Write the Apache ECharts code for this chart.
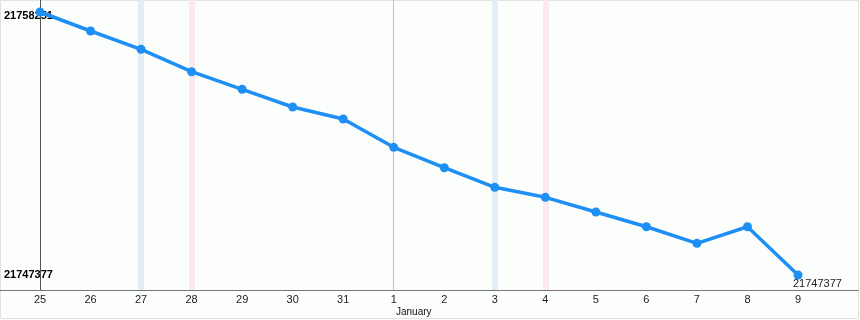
<!DOCTYPE html>
<html>
<head>
<meta charset="utf-8">
<script src="https://cdn.jsdelivr.net/npm/echarts@6/dist/echarts.min.js"></script>
<style>
html,body{margin:0;padding:0;background:#fcfefc;}
#c{width:860px;height:320px;}
</style>
</head>
<body>
<div id="c"></div>
<script>
const days = ['25','26','27','28','29','30','31','1','2','3','4','5','6','7','8','9'];
const values = [21758251, 21757465, 21756709, 21755782, 21755055, 21754323, 21753827, 21752656,
                21751813, 21751002, 21750589, 21749981, 21749373, 21748686, 21749373, 21747377];
const saturdays = ['27', '3'];
const sundays = ['28', '4'];
const monthStart = '1';
const monthName = 'January';

const vMax = Math.max(...values);
const vMin = Math.min(...values);
const perPx = (vMax - vMin) / 263;
const axisMax = vMax + 12 * perPx;
const axisMin = vMin - 15 * perPx;
const yLabelValues = [vMin, vMax];

const FONT = '"Liberation Sans", Arial, sans-serif';

const chart = echarts.init(document.getElementById('c'));
chart.setOption({
  backgroundColor: '#fcfefc',
  animation: false,
  graphic: [{
    type: 'rect', silent: true, z: -10,
    shape: { x: 0.5, y: 0.5, width: 858, height: 318 },
    style: { fill: 'none', stroke: '#e2e2e2', lineWidth: 1 }
  }],
  grid: [
    { left: 40, right: 62, top: 0, bottom: 30 },
    { left: 0, right: 2, top: 0, bottom: 30 }
  ],
  xAxis: [{
    type: 'category', gridIndex: 0, data: days, boundaryGap: false,
    axisLine: { show: false }, axisTick: { show: false }, splitLine: { show: false },
    axisLabel: {
      interval: 0, showMinLabel: true, showMaxLabel: true, hideOverlap: false,
      margin: 4, fontFamily: FONT, fontSize: 11, color: '#222', lineHeight: 12,
      formatter: function (v) {
        return v === monthStart ? v + '\n{m|' + monthName + '}' : v;
      },
      rich: {
        m: { fontFamily: FONT, fontSize: 10, color: '#111', lineHeight: 12, padding: [0, 0, 0, 40] }
      }
    }
  }, {
    type: 'value', gridIndex: 1, min: 0, max: 1,
    axisLine: { show: true, lineStyle: { color: '#777', width: 1 } },
    axisTick: { show: false }, axisLabel: { show: false }, splitLine: { show: false }
  }],
  yAxis: [{
    type: 'value', gridIndex: 0, min: axisMin, max: axisMax,
    axisLine: { show: true, lineStyle: { color: '#555', width: 1 } },
    axisTick: { show: false }, splitLine: { show: false },
    axisLabel: {
      customValues: yLabelValues,
      align: 'left', margin: 36, verticalAlign: 'middle',
      fontFamily: FONT, fontSize: 11, fontWeight: 'bold', color: '#000',
      formatter: function (v) {
        return v === vMax ? '{t|' + v + '}' : '{b|' + v + '}';
      },
      rich: {
        t: { fontFamily: FONT, fontSize: 11, fontWeight: 'bold', color: '#000', padding: [8, 0, 0, 0] },
        b: { fontFamily: FONT, fontSize: 11, fontWeight: 'bold', color: '#000' }
      }
    }
  }, {
    type: 'value', gridIndex: 1, show: false, min: 0, max: 1
  }],
  series: [{
    type: 'line', xAxisIndex: 0, yAxisIndex: 0, data: [], z: 1, silent: true,
    markLine: {
      silent: true, symbol: ['none', 'none'], label: { show: false },
      data: [
        ...saturdays.map(d => ({ xAxis: d, lineStyle: { color: '#e2eef5', width: 6, type: 'solid' } })),
        ...sundays.map(d => ({ xAxis: d, lineStyle: { color: '#fce8f0', width: 6, type: 'solid' } })),
        { xAxis: monthStart, lineStyle: { color: '#c8c8c8', width: 1.2, type: 'solid' } }
      ]
    }
  }, {
    type: 'line', xAxisIndex: 0, yAxisIndex: 0, z: 5,
    symbol: 'circle', symbolSize: 9,
    lineStyle: { color: '#1e8ff5', width: 3.5 },
    itemStyle: { color: '#1e8ff5' },
    data: values.map((v, i) => i === values.length - 1 ? {
      value: v,
      label: {
        show: true, position: [-0.5, 8], align: 'left', verticalAlign: 'top',
        fontFamily: FONT, fontSize: 11, color: '#222',
        formatter: '{c}'
      }
    } : v)
  }]
});
</script>
</body>
</html>
